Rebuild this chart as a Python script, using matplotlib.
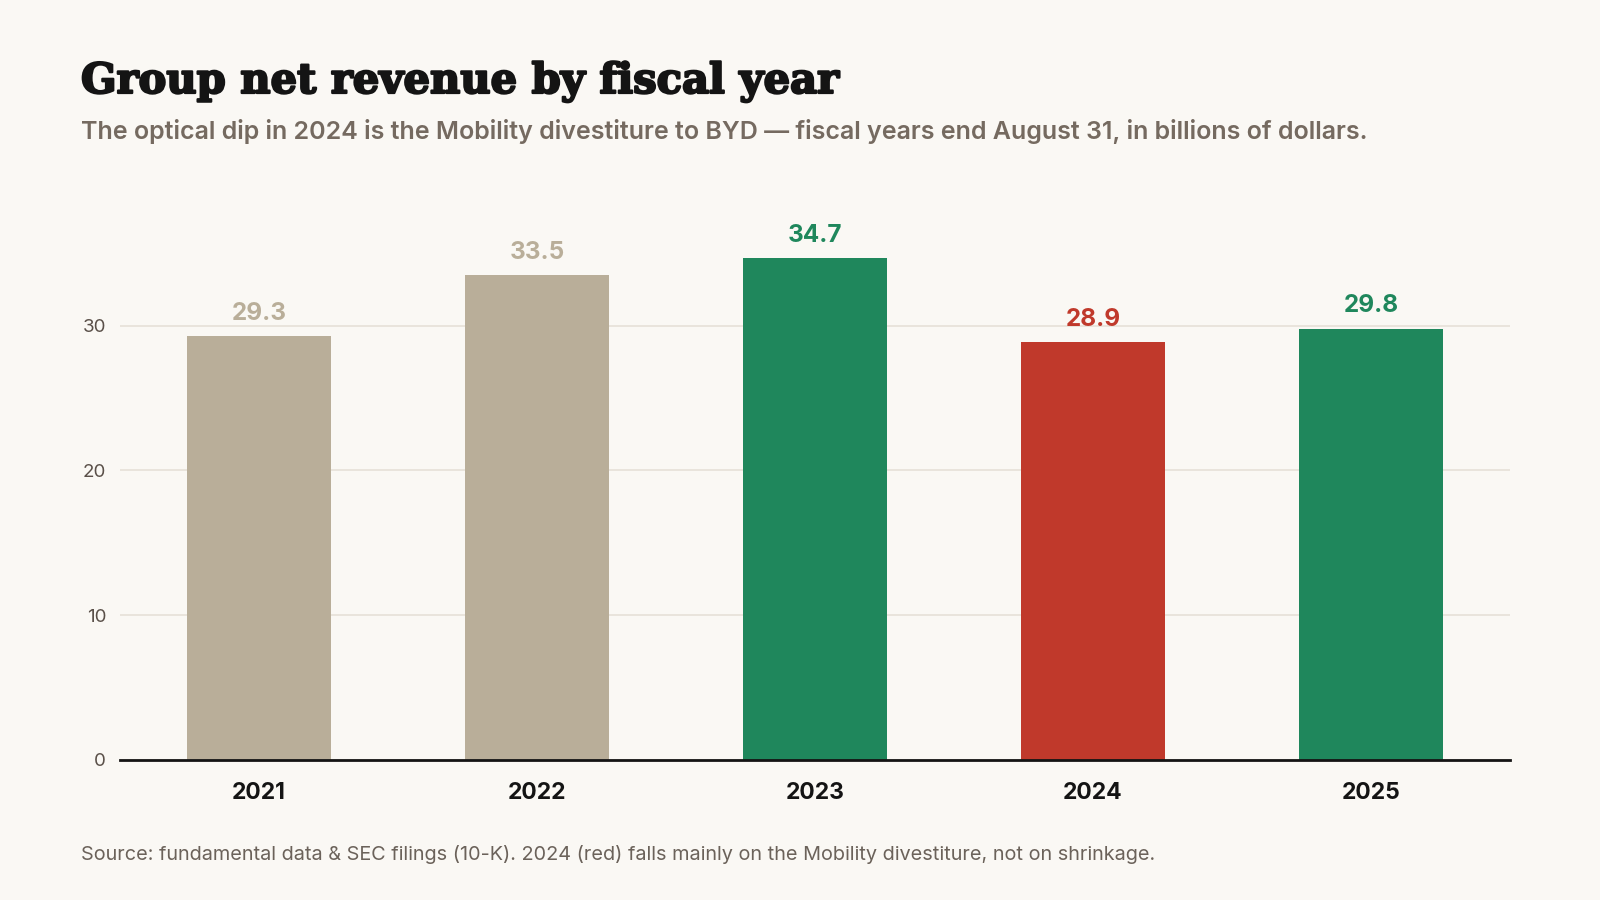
import matplotlib.pyplot as plt
import matplotlib.patheffects as pe

years = ["2021", "2022", "2023", "2024", "2025"]
revenue = [29.3, 33.5, 34.7, 28.9, 29.8]
bar_colors = ["#b9ae99", "#b9ae99", "#1f875c", "#c0392b", "#1f875c"]
yticks = [0, 10, 20, 30]

title = "Group net revenue by fiscal year"
subtitle = ("The optical dip in 2024 is the Mobility divestiture to BYD \u2014 "
            "fiscal years end August 31, in billions of dollars.")
source = ("Source: fundamental data & SEC filings (10-K). 2024 (red) falls mainly "
          "on the Mobility divestiture, not on shrinkage.")

bg = "#faf8f4"
plt.rcParams['font.family'] = ['Inter', 'DejaVu Sans']

W, H = 1600, 900
fig = plt.figure(figsize=(16, 9), dpi=100, facecolor=bg)

# axes box in pixels: left 120, right 1510, bottom 760, top for y=38
ymax = 38
px_per_unit = (760 - 325.7) / 30
top = 760 - ymax * px_per_unit
ax = fig.add_axes([120 / W, 1 - 760 / H, (1510 - 120) / W, (760 - top) / H])
ax.set_facecolor(bg)

x = list(range(len(years)))
ax.bar(x, revenue, width=0.52, color=bar_colors, zorder=2)
for xi, v, c in zip(x, revenue, bar_colors):
    ax.annotate(f"{v:.1f}", (xi, v), xytext=(0, 8), textcoords="offset points",
                ha="center", va="bottom", fontsize=17.5, fontweight="bold", color=c)

ax.set_xlim(-0.5, 4.5)
ax.set_ylim(0, ymax)
ax.set_yticks(yticks)
ax.set_yticklabels([str(t) for t in yticks], fontsize=13.5, color="#5a5049")
ax.set_xticks(x)
ax.set_xticklabels(years, fontsize=16.5, fontweight="bold", color="#141414")
ax.tick_params(axis="y", length=0, pad=10)
ax.tick_params(axis="x", length=0, pad=16)
ax.grid(axis="y", color="#e6e1d8", linewidth=1.2, zorder=0)
for s in ["top", "right", "left"]:
    ax.spines[s].set_visible(False)
ax.spines["bottom"].set_color("#141414")
ax.spines["bottom"].set_linewidth(2)
ax.spines["bottom"].set_zorder(3)

# heavier look for the serif title
fig.text(81 / W, 1 - 93 / H, title, fontsize=30, fontweight="heavy",
         family="DejaVu Serif", color="#141414", ha="left", va="baseline",
         path_effects=[pe.withStroke(linewidth=1.6, foreground="#141414")])
fig.text(81 / W, 1 - 132 / H, subtitle, fontsize=18, fontweight="semibold",
         color="#756a60", ha="left", va="center")
fig.text(81 / W, 1 - 854 / H, source, fontsize=14.3, color="#6b625a",
         ha="left", va="center")

fig.savefig("out.png", dpi=100, facecolor=bg)
